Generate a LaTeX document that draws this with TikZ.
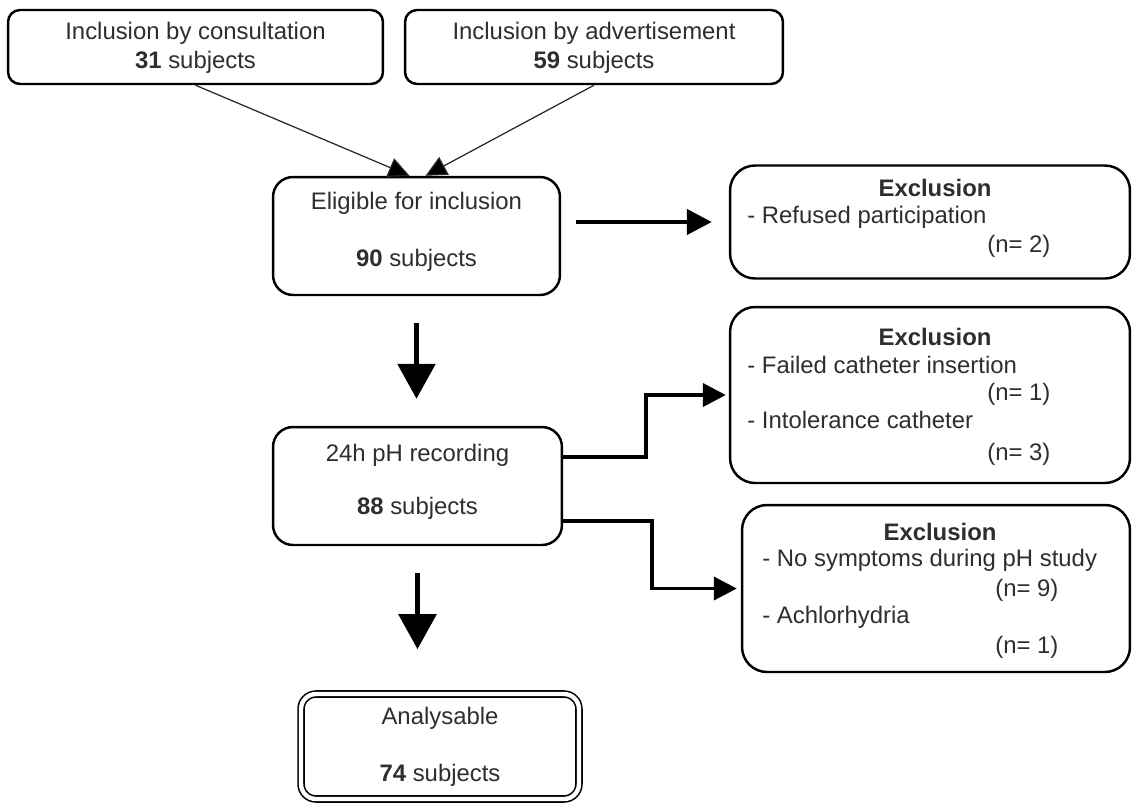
\documentclass[tikz,border=0pt]{standalone}
\usepackage{fontspec}
\setmainfont{Liberation Sans}
\usetikzlibrary{arrows.meta,calc}
\definecolor{txt}{HTML}{2E2E2E}
\begin{document}
\begin{tikzpicture}[x=0.02cm, y=-0.02cm,
  font=\fontsize{13.6pt}{16pt}\selectfont, text=txt,
  bx/.style={draw, line width=1.4pt, rounded corners=#1, inner sep=0pt},
  ctr/.style={inner sep=0pt},
  lft/.style={inner sep=0pt, anchor=west},
  tarrow/.style={draw=black!85, line width=0.7pt, -{Triangle[length=0.42cm,width=0.4cm,fill=black]}},
  varrow/.style={line width=3.2pt, -{Triangle[length=0.7cm,width=0.74cm]}},
  harrow/.style={line width=2.6pt, -{Triangle[length=0.5cm,width=0.5cm]}},
  earrow/.style={line width=2.2pt, -{Triangle[length=0.46cm,width=0.46cm]}}]
\useasboundingbox (0,0) rectangle (1133,806);
\fill[white] (0,0) rectangle (1133,806);

% boxes
\node[bx=0.24cm, minimum width=7.5cm, minimum height=1.48cm] (A) at (195.5,47) {};
\node[bx=0.24cm, minimum width=7.56cm, minimum height=1.48cm] (B) at (594,47) {};
\node[bx=0.4cm, minimum width=5.74cm, minimum height=2.36cm] (elig) at (416.5,236) {};
\node[bx=0.5cm, minimum width=8cm, minimum height=2.26cm] (ex1) at (930,222) {};
\node[bx=0.4cm, minimum width=5.78cm, minimum height=2.36cm] (rec) at (417.5,486) {};
\node[bx=0.5cm, minimum width=8cm, minimum height=3.52cm] (ex2) at (930,395) {};
\node[bx=0.5cm, minimum width=7.76cm, minimum height=3.34cm] (ex3) at (936,588.5) {};
\node[draw, line width=0.9pt, double=white, double distance=2.5pt, rounded corners=0.3cm,
      minimum width=5.56cm, minimum height=2.1cm, inner sep=0pt] (ana) at (440,746.5) {};

% texts
\node[ctr] (a1) at (195.5,33) {Inclusion by consultation};
\node[ctr] (a2) at (195.5,62) {\textbf{31} subjects};
\node[ctr] (b1) at (594,33) {Inclusion by advertisement};
\node[ctr] (b2) at (594,62) {\textbf{59} subjects};
\node[ctr] (e1) at (416.5,203) {Eligible for inclusion};
\node[ctr] (e2) at (416.5,260) {\textbf{90} subjects};
\node[ctr] (r1) at (417.5,455) {24h pH recording};
\node[ctr] (r2) at (417.5,508) {\textbf{88} subjects};
\node[ctr] (n1) at (440,718) {Analysable};
\node[ctr] (n2) at (440,775) {\textbf{74} subjects};

\node[ctr] (x11) at (935,188) {\textbf{Exclusion}};
\node[lft] (x12) at (747,217) {- Refused participation};
\node[lft] (x13) at (987,246) {(n= 2)};

\node[ctr] (x21) at (935,337) {\textbf{Exclusion}};
\node[lft] (x22) at (747,365) {- Failed catheter insertion};
\node[lft] (x23) at (987,394) {(n= 1)};
\node[lft] (x24) at (747,420) {- Intolerance catheter};
\node[lft] (x25) at (987,454) {(n= 3)};

\node[ctr] (x31) at (940,532) {\textbf{Exclusion}};
\node[lft] (x32) at (762,560) {- No symptoms during pH study};
\node[lft] (x33) at (995,590) {(n= 9)};
\node[lft] (x34) at (762,617) {- Achlorhydria};
\node[lft] (x35) at (995,647) {(n= 1)};

% connectors
\draw[tarrow] (A.south) -- ($(elig.north)+(-7,0)$);
\draw[tarrow] (B.south) -- ($(elig.north)+(9,0)$);
\draw[harrow, shorten <=0.3cm, shorten >=0.34cm] (elig.east |- ex1.west) -- (ex1.west);
\draw[varrow, shorten <=0.54cm, shorten >=0.54cm] (elig.south) -- (elig.south |- rec.north);
\draw[earrow, shorten >=0.06cm] ($(rec.north east)+(0,31)$) -- ++(83,0) |- (ex2.west);
\draw[earrow, shorten >=0.08cm] ($(rec.north east)+(0,95)$) -- ++(89,0) |- (ex3.west);
\draw[varrow, shorten <=0.54cm, shorten >=0.88cm] (rec.south) -- (rec.south |- ana.north);
\end{tikzpicture}
\end{document}
